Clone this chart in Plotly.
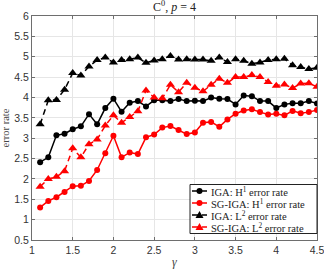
import plotly.graph_objects as go

gamma = [round(1.1 + 0.1 * i, 1) for i in range(35)]

iga_h1 = [2.41, 2.53, 3.07, 3.11, 3.22, 3.29, 3.59, 3.34, 3.74, 3.97,
          3.65, 3.87, 3.91, 3.78, 3.93, 3.93, 3.91, 3.96, 3.91, 3.92,
          3.91, 4.00, 3.97, 3.96, 3.83, 4.05, 4.03, 3.91, 3.91, 3.74,
          3.83, 3.86, 3.86, 3.91, 3.85]
sg_h1 = [1.30, 1.46, 1.55, 1.68, 1.82, 1.83, 1.95, 2.22, 2.63, 3.06,
         2.53, 2.65, 2.61, 3.02, 3.09, 3.26, 3.30, 3.20, 3.10, 3.14,
         3.38, 3.40, 3.28, 3.46, 3.60, 3.68, 3.71, 3.64, 3.58, 3.60,
         3.56, 3.67, 3.61, 3.64, 3.69]
iga_l2 = [3.34, 3.93, 3.94, 4.19, 4.60, 4.54, 4.76, 4.92, 4.98, 4.86,
          4.92, 4.94, 4.98, 4.85, 4.91, 4.94, 5.02, 4.93, 4.94, 4.93,
          4.93, 4.90, 4.98, 4.87, 4.94, 4.90, 4.83, 4.86, 4.92, 4.94,
          4.95, 4.79, 4.75, 4.70, 4.73]
sg_l2 = [1.81, 2.00, 2.05, 2.19, 2.75, 2.53, 2.85, 2.97, 3.31, 3.56,
         3.38, 3.52, 3.66, 4.17, 4.00, 3.98, 4.31, 4.13, 4.36, 4.24,
         4.15, 4.31, 4.46, 4.36, 4.50, 4.50, 4.55, 4.50, 4.38, 4.29,
         4.32, 4.23, 4.34, 4.35, 4.26]

names = ["IGA: H<sup>1</sup> error rate", "SG-IGA: H<sup>1</sup> error rate",
         "IGA: L<sup>2</sup> error rate", "SG-IGA: L<sup>2</sup> error rate"]
x_ticks = [1, 1.5, 2, 2.5, 3, 3.5, 4, 4.5]
y_ticks = [0.5, 1, 1.5, 2, 2.5, 3, 3.5, 4, 4.5, 5, 5.5, 6]

serif = "Liberation Serif, DejaVu Serif, serif"
sans = "Liberation Sans, Arial, sans-serif"

W, H = 324, 270
ML, MR, MT, MB = 32, 7, 16, 30
PW, PH = W - ML - MR, H - MT - MB


def px(x):
    return (x - ML) / PW


def py(y):
    return (H - MB - y) / PH


fig = go.Figure()
series = [
    (iga_h1, names[0], "black", "solid", "circle", 6),
    (sg_h1, names[1], "red", "solid", "circle", 6),
    (iga_l2, names[2], "black", "6px,4px", "triangle-up", 8),
    (sg_l2, names[3], "red", "6px,4px", "triangle-up", 8),
]
for ys, nm, col, dash, sym, ms in series:
    fig.add_trace(go.Scatter(
        x=gamma, y=ys, name=nm, mode="lines+markers", showlegend=False,
        line=dict(color=col, width=1.5, dash=dash),
        marker=dict(symbol=sym, size=ms, color=col, line=dict(width=0)),
    ))

# custom compact legend (box, samples, labels)
shapes = [dict(type="rect", xref="paper", yref="paper",
               x0=px(190), x1=px(317), y0=py(233.5), y1=py(184.5),
               line=dict(color="#222222", width=1), fillcolor="white", layer="above")]
annotations = []
row_y = [191, 203, 215, 227]
for (ys, nm, col, dash, sym, ms), ry in zip(series, row_y):
    shapes.append(dict(type="line", xref="paper", yref="paper",
                       x0=px(192), x1=px(207), y0=py(ry), y1=py(ry),
                       line=dict(color=col, width=1.5, dash=dash), layer="above"))
    if sym == "circle":
        shapes.append(dict(type="circle", xref="paper", yref="paper",
                           xsizemode="pixel", ysizemode="pixel",
                           xanchor=px(199.5), yanchor=py(ry),
                           x0=-3, x1=3, y0=-3, y1=3,
                           fillcolor=col, line=dict(width=0), layer="above"))
    else:
        shapes.append(dict(type="path", xref="paper", yref="paper",
                           xsizemode="pixel", ysizemode="pixel",
                           xanchor=px(199.5), yanchor=py(ry),
                           path="M -4 -3 L 4 -3 L 0 4 Z",
                           fillcolor=col, line=dict(width=0), layer="above"))
    annotations.append(dict(text=nm, xref="paper", yref="paper",
                            x=px(209), y=py(ry), xanchor="left", yanchor="middle",
                            showarrow=False,
                            font=dict(family=serif, size=10.5, color="#222222")))

annotations.append(dict(text="<i>γ</i>", xref="paper", yref="paper",
                        x=0.5, y=py(262), xanchor="center", yanchor="middle",
                        showarrow=False,
                        font=dict(family=serif, size=12, color="#444444")))

axis_common = dict(
    showline=True, linecolor="#6e6e6e", linewidth=1, mirror="ticks",
    ticks="inside", ticklen=3, tickcolor="#6e6e6e",
    showgrid=True, gridcolor="#e6e6e6", gridwidth=1, zeroline=False,
    automargin=False, ticklabeloverflow="allow",
    tickfont=dict(family=sans, size=10.5, color="#333333"),
)

fig.update_layout(
    width=W, height=H,
    margin=dict(l=ML, r=MR, t=MT, b=MB),
    paper_bgcolor="white", plot_bgcolor="white",
    title=dict(text="C<sup>0</sup>, <i>p</i> = 4", xref="paper", x=0.5, xanchor="center",
               y=0.99, yanchor="top",
               font=dict(family=serif, size=12, color="#222222")),
    xaxis=dict(range=[1, 4.5], tickvals=x_ticks, ticktext=[str(v) for v in x_ticks],
               **axis_common),
    yaxis=dict(range=[0.5, 6], tickvals=y_ticks, ticktext=[str(v) for v in y_ticks],
               title=dict(text="error rate", standoff=4,
                          font=dict(family=serif, size=10.5, color="#444444")),
               **axis_common),
    shapes=shapes,
    annotations=annotations,
    showlegend=False,
)

fig.write_html("out.html", config={"displayModeBar": False},
               post_script="document.body.style.margin='0';document.body.style.overflow='hidden';")
